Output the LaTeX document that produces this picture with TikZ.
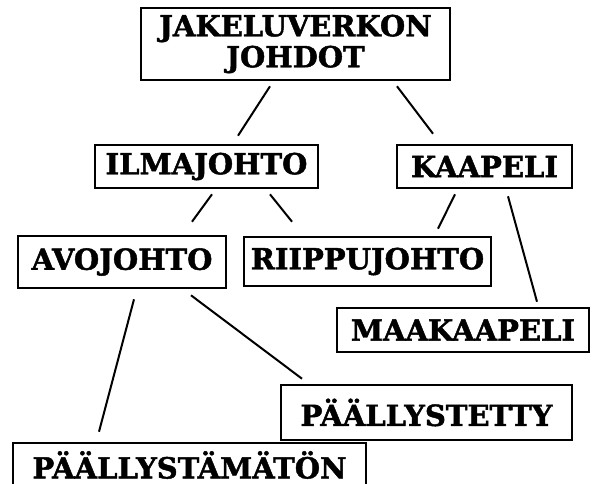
\documentclass[tikz,border=0pt]{standalone}
\usepackage{fontspec}
\setmainfont[BoldFeatures={FakeBold=1.6}]{DejaVu Serif}
\begin{document}
\begin{tikzpicture}[x=1pt,y=-1pt]
\tikzset{laatikko/.style={draw,line width=2.6pt,inner sep=1pt,align=center,
    font=\bfseries\fontsize{29}{31}\selectfont},
  johto/.style={line width=2pt}}
\useasboundingbox (0,0) rectangle (592,483);
\node [laatikko,minimum width=309pt,minimum height=72pt] (jakelu) at (295.5,44) {JAKELUVERKON\\JOHDOT};
\node [laatikko,minimum width=223pt,minimum height=43pt] (ilma) at (206.5,166.5) {ILMAJOHTO};
\node [laatikko,minimum width=175pt,minimum height=43pt] (kaap) at (484.5,166.5) {KAAPELI};
\node [laatikko,minimum width=208pt,minimum height=52pt] (avo) at (122,262) {AVOJOHTO};
\node [laatikko,minimum width=247pt,minimum height=49pt] (riip) at (367.5,261.5) {RIIPPUJOHTO};
\node [laatikko,minimum width=252pt,minimum height=44pt] (maak) at (463,330) {MAAKAAPELI};
\node [laatikko,minimum width=291pt,minimum height=55pt] (pyst) at (426.5,412.5) {PÄÄLLYSTETTY};
\node [laatikko,minimum width=353pt,minimum height=44pt] (pmat) at (189.5,465) {PÄÄLLYSTÄMÄTÖN};
\draw [johto] ([xshift=-25.5pt,yshift=-5pt]jakelu.south) -- ([xshift=31.5pt,yshift=8pt]ilma.north);
\draw [johto] ([xshift=101.5pt,yshift=-5pt]jakelu.south) -- ([xshift=-51.5pt,yshift=10pt]kaap.north);
\draw [johto] ([xshift=5.5pt,yshift=-5pt]ilma.south) -- ([xshift=70pt,yshift=13pt]avo.north);
\draw [johto] ([xshift=63.5pt,yshift=-5pt]ilma.south) -- ([xshift=-75.5pt,yshift=14pt]riip.north);
\draw [johto] ([xshift=-29.5pt,yshift=-5pt]kaap.south) -- ([xshift=70.5pt,yshift=7pt]riip.north);
\draw [johto] ([xshift=23.5pt,yshift=-7pt]kaap.south) -- ([xshift=74pt,yshift=5pt]maak.north);
\draw [johto] ([xshift=12pt,yshift=-10pt]avo.south) -- ([xshift=-90.5pt,yshift=10pt]pmat.north);
\draw [johto] ([xshift=69pt,yshift=-6pt]avo.south) -- ([xshift=-124.5pt,yshift=5pt]pyst.north);
\end{tikzpicture}
\end{document}
